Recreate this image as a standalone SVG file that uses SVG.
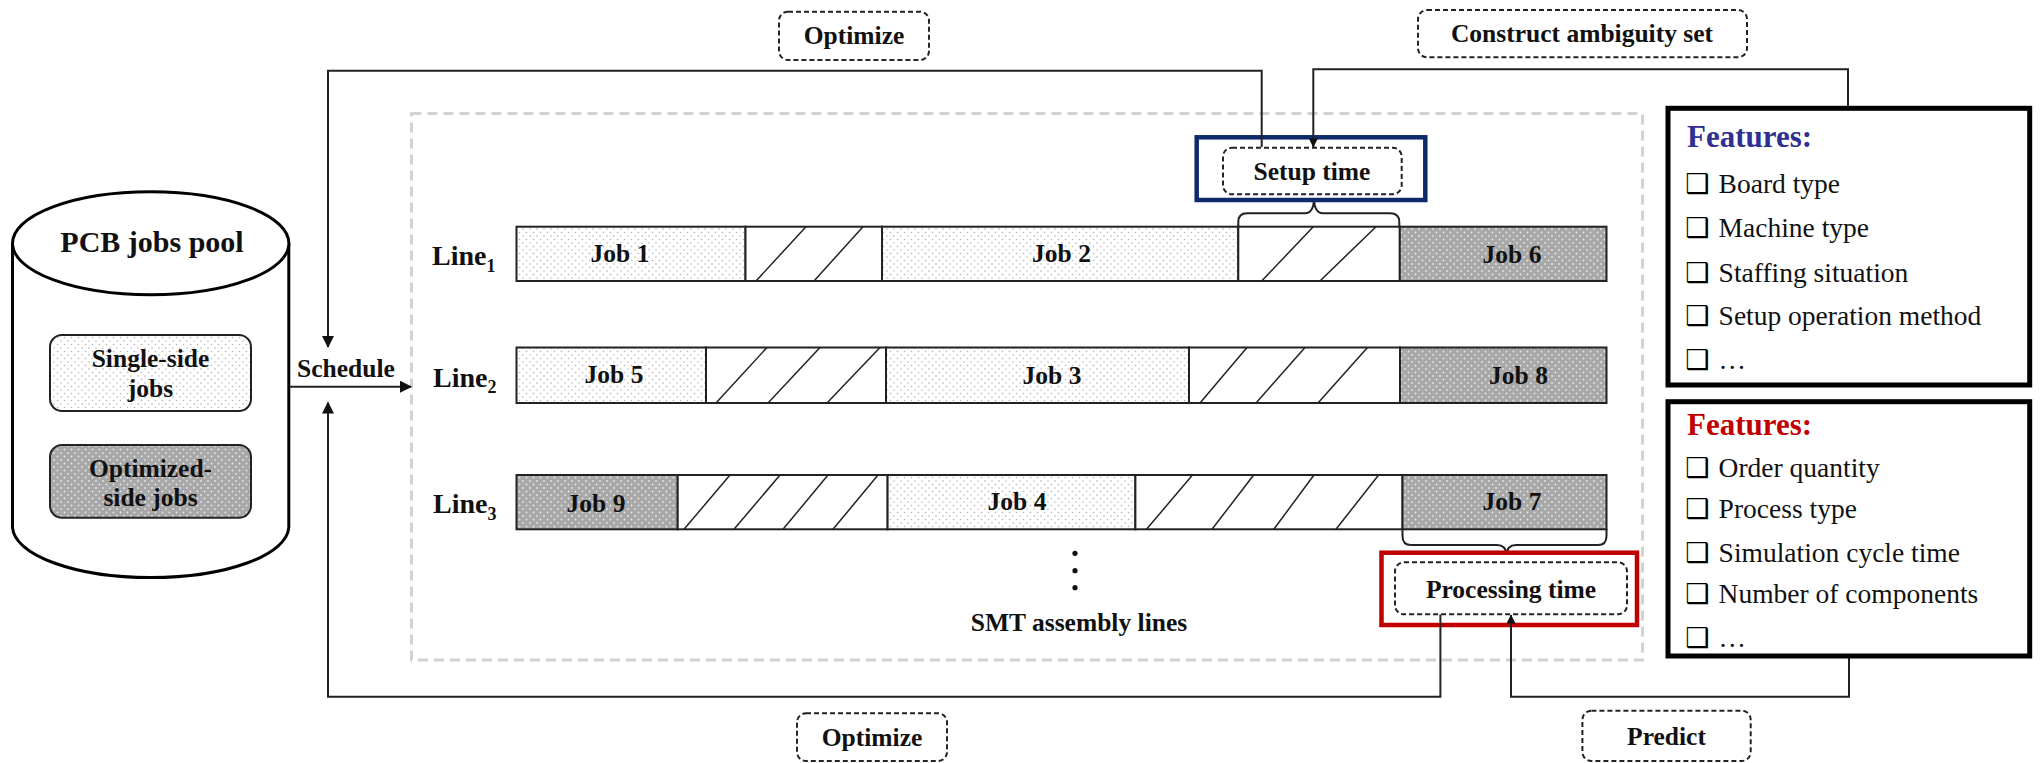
<svg xmlns="http://www.w3.org/2000/svg" width="2040" height="763" viewBox="0 0 2040 763">
  <defs>
    <pattern id="dotLight" width="7" height="7" patternUnits="userSpaceOnUse">
      <rect width="7" height="7" fill="#ffffff"/>
      <circle cx="1.5" cy="1.5" r="0.8" fill="#b5b5b5"/>
      <circle cx="5" cy="5" r="0.8" fill="#b5b5b5"/>
    </pattern>
    <pattern id="dotDark" width="7" height="7" patternUnits="userSpaceOnUse">
      <rect width="7" height="7" fill="#a8a8a8"/>
      <circle cx="1.5" cy="1.5" r="0.9" fill="#e6e6e6"/>
      <circle cx="5" cy="5" r="0.9" fill="#e6e6e6"/>
    </pattern>
    <marker id="arrow" viewBox="0 0 12 12" refX="11" refY="6" markerWidth="12" markerHeight="12" markerUnits="userSpaceOnUse" orient="auto">
      <path d="M0,0 L12,6 L0,12 Z" fill="#111"/>
    </marker>
    <marker id="arrowSm" viewBox="0 0 10 10" refX="9.5" refY="5" markerWidth="10" markerHeight="9" markerUnits="userSpaceOnUse" orient="auto">
      <path d="M0,0 L10,5 L0,10 Z" fill="#111"/>
    </marker>
  </defs>
  <style>
    .lbl { font-family: "Liberation Serif", "Times New Roman", serif; font-weight: bold; font-size: 25.5px; fill: #111; }
    .mid { text-anchor: middle; }
    .job { stroke: #222; stroke-width: 2; }
    .light { fill: url(#dotLight); }
    .dark { fill: url(#dotDark); }
    .hatch { fill: #fff; }
    .hl { stroke: #222; stroke-width: 1.5; }
    .conn { fill: none; stroke: #222; stroke-width: 2; }
    .tag { fill: #fff; stroke: #222; stroke-width: 2; stroke-dasharray: 5 3; }
    .feat { fill: #fff; stroke: #000; stroke-width: 5; }
    .item { font-family: "Liberation Serif", "Times New Roman", serif; font-size: 27.5px; fill: #111; }
    .box { font-family: "DejaVu Sans", sans-serif; font-size: 27px; fill: #000; }
    .line { font-family: "Liberation Serif", "Times New Roman", serif; font-weight: bold; font-size: 28px; fill: #111; }
    .head { font-family: "Liberation Serif", "Times New Roman", serif; font-weight: bold; font-size: 31px; }
  </style>

  <rect width="2040" height="763" fill="#ffffff"/>

  <!-- container of the assembly lines -->
  <rect id="smt-area" x="411.5" y="113.5" width="1231" height="546.5" fill="none" stroke="#d2d2d2" stroke-width="3" stroke-dasharray="10 6"/>

  <!-- job pool cylinder -->
  <g id="pool">
    <path d="M12.5,243.3 V527.5 A138.2,51.5 0 0 0 288.8,527.5 V243.3" fill="#fff" stroke="#000" stroke-width="3"/>
    <ellipse cx="150.7" cy="243.3" rx="138.2" ry="51.5" fill="#fff" stroke="#000" stroke-width="3"/>
    <text class="lbl mid" x="152" y="252" style="font-size:30px">PCB jobs pool</text>
  </g>
  <g id="single-side">
    <rect x="50" y="335" width="201" height="76" rx="12" class="light" stroke="#222" stroke-width="2"/>
    <text class="lbl mid" x="150.5" y="366.5">Single-side</text>
    <text class="lbl mid" x="150.5" y="396.5">jobs</text>
  </g>
  <g id="optimized-side">
    <rect x="50" y="445" width="201" height="72.7" rx="12" class="dark" stroke="#222" stroke-width="2"/>
    <text class="lbl mid" x="150.5" y="476.5">Optimized-</text>
    <text class="lbl mid" x="150.5" y="506">side jobs</text>
  </g>

  <!-- line 1 -->
  <g id="line1">
    <text class="line" x="432" y="265">Line<tspan dy="6.5" style="font-size:18px">1</tspan></text>
    <rect class="job light" x="516.5" y="226.7" width="229" height="54.3"/>
    <rect class="job hatch" x="745.5" y="226.7" width="136.5" height="54.3"/>
    <line class="hl" x1="756" y1="281" x2="806" y2="226.7"/>
    <line class="hl" x1="814" y1="281" x2="863" y2="226.7"/>
    <rect class="job light" x="882" y="226.7" width="356.3" height="54.3"/>
    <rect class="job hatch" x="1238.3" y="226.7" width="161.5" height="54.3"/>
    <line class="hl" x1="1261.7" y1="281" x2="1313.3" y2="226.7"/>
    <line class="hl" x1="1320" y1="281" x2="1376" y2="226.7"/>
    <rect class="job dark" x="1399.8" y="226.7" width="206.7" height="54.3"/>
    <text class="lbl mid" x="620" y="262">Job 1</text>
    <text class="lbl mid" x="1061.5" y="262">Job 2</text>
    <text class="lbl mid" x="1512" y="263">Job 6</text>
  </g>

  <!-- line 2 -->
  <g id="line2">
    <text class="line" x="433" y="386.7">Line<tspan dy="6.5" style="font-size:18px">2</tspan></text>
    <rect class="job light" x="516.5" y="347.5" width="189.5" height="55.5"/>
    <rect class="job hatch" x="706" y="347.5" width="180" height="55.5"/>
    <line class="hl" x1="716" y1="403" x2="767" y2="347.5"/>
    <line class="hl" x1="768" y1="403" x2="820" y2="347.5"/>
    <line class="hl" x1="827" y1="403" x2="880" y2="347.5"/>
    <rect class="job light" x="886" y="347.5" width="303" height="55.5"/>
    <rect class="job hatch" x="1189" y="347.5" width="211" height="55.5"/>
    <line class="hl" x1="1200" y1="403" x2="1247" y2="347.5"/>
    <line class="hl" x1="1256" y1="403" x2="1305" y2="347.5"/>
    <line class="hl" x1="1318" y1="403" x2="1367.5" y2="347.5"/>
    <rect class="job dark" x="1400" y="347.5" width="206.5" height="55.5"/>
    <text class="lbl mid" x="614" y="383">Job 5</text>
    <text class="lbl mid" x="1052" y="383.5">Job 3</text>
    <text class="lbl mid" x="1518.5" y="384">Job 8</text>
  </g>

  <!-- line 3 -->
  <g id="line3">
    <text class="line" x="433" y="513.3">Line<tspan dy="6.5" style="font-size:18px">3</tspan></text>
    <rect class="job dark" x="516.5" y="475" width="161.2" height="54.3"/>
    <rect class="job hatch" x="677.7" y="475" width="209.9" height="54.3"/>
    <line class="hl" x1="684" y1="529.3" x2="730" y2="475"/>
    <line class="hl" x1="734" y1="529.3" x2="780" y2="475"/>
    <line class="hl" x1="783" y1="529.3" x2="828" y2="475"/>
    <line class="hl" x1="833" y1="529.3" x2="878" y2="475"/>
    <rect class="job light" x="887.6" y="475" width="247.8" height="54.3"/>
    <rect class="job hatch" x="1135.4" y="475" width="267.1" height="54.3"/>
    <line class="hl" x1="1146.5" y1="529.3" x2="1192.5" y2="475"/>
    <line class="hl" x1="1212" y1="529.3" x2="1253.7" y2="475"/>
    <line class="hl" x1="1273.8" y1="529.3" x2="1314" y2="475"/>
    <line class="hl" x1="1336" y1="529.3" x2="1378.6" y2="475"/>
    <rect class="job dark" x="1402.5" y="475" width="204" height="54.3"/>
    <text class="lbl mid" x="596" y="511.5">Job 9</text>
    <text class="lbl mid" x="1017" y="509.5">Job 4</text>
    <text class="lbl mid" x="1512" y="509.5">Job 7</text>
  </g>

  <!-- more lines / caption -->
  <g id="more-lines">
    <circle cx="1075" cy="553.3" r="2.6" fill="#111"/>
    <circle cx="1075" cy="570.7" r="2.6" fill="#111"/>
    <circle cx="1075" cy="587.7" r="2.6" fill="#111"/>
    <text class="lbl mid" x="1079" y="630.5">SMT assembly lines</text>
  </g>

  <!-- braces -->
  <g id="braces" fill="none" stroke="#222" stroke-width="2">
    <path d="M1238.3,226.7 V222 Q1238.3,213.3 1247,213.3 H1305 Q1313.5,213.3 1314,199 Q1314.5,213.3 1323,213.3 H1390 Q1399.3,213.3 1399.3,222 V226.7"/>
    <path d="M1402.5,529.3 V536 Q1402.5,545 1411,545 H1497 Q1506,545 1506.5,555 Q1507,545 1516,545 H1598 Q1606.5,545 1606.5,536 V529.3"/>
  </g>

  <!-- setup time -->
  <g id="setup-time">
    <rect x="1196.7" y="137.3" width="228.6" height="62.7" fill="#fff" stroke="#0d2a6b" stroke-width="4.5"/>
    <rect class="tag" x="1223" y="147.7" width="178.7" height="46.6" rx="9"/>
    <text class="lbl mid" x="1312" y="180">Setup time</text>
  </g>

  <!-- processing time -->
  <g id="processing-time">
    <rect x="1381.5" y="552.7" width="255.5" height="72.3" fill="#fff" stroke="#c00000" stroke-width="4.5"/>
    <rect class="tag" x="1395" y="562.3" width="232" height="52" rx="9"/>
    <text class="lbl mid" x="1511" y="598.3">Processing time</text>
  </g>

  <!-- connectors -->
  <g id="connectors">
    <path class="conn" d="M1261.7,147 V70.7 H328 V347" marker-end="url(#arrow)"/>
    <path class="conn" d="M1848,108 V69.3 H1313.3 V147" marker-end="url(#arrowSm)"/>
    <path class="conn" d="M289,386.7 H411" marker-end="url(#arrow)"/>
    <path class="conn" d="M1440.4,614.5 V696.7 H328 V402.5" marker-end="url(#arrow)"/>
    <path class="conn" d="M1849,656 V696.7 H1511 V615" marker-end="url(#arrowSm)"/>
  </g>

  <!-- action tags -->
  <g id="tag-optimize-top">
    <rect class="tag" x="779" y="11.7" width="150" height="48.3" rx="9"/>
    <text class="lbl mid" x="854" y="44">Optimize</text>
  </g>
  <g id="tag-ambiguity">
    <rect class="tag" x="1418" y="10" width="329" height="47.3" rx="9"/>
    <text class="lbl mid" x="1582" y="41.7">Construct ambiguity set</text>
  </g>
  <g id="tag-optimize-bottom">
    <rect class="tag" x="797" y="713.3" width="150" height="47.7" rx="9"/>
    <text class="lbl mid" x="872" y="745.7">Optimize</text>
  </g>
  <g id="tag-predict">
    <rect class="tag" x="1582.4" y="710.7" width="168.3" height="50.3" rx="9"/>
    <text class="lbl mid" x="1666.5" y="745">Predict</text>
  </g>
  <g id="tag-schedule">
    <text class="lbl mid" x="346" y="376.7">Schedule</text>
  </g>

  <!-- feature lists -->
  <g id="setup-features">
    <rect class="feat" x="1668" y="108.3" width="361.7" height="276.7"/>
    <text class="head" x="1687" y="146.7" fill="#2e3192">Features:</text>
    <text class="box" x="1685" y="192.7">❑</text>
    <text class="item" x="1718.6" y="192.7">Board type</text>
    <text class="box" x="1685" y="236.7">❑</text>
    <text class="item" x="1718.6" y="236.7">Machine type</text>
    <text class="box" x="1685" y="281.7">❑</text>
    <text class="item" x="1718.6" y="281.7">Staffing situation</text>
    <text class="box" x="1685" y="325">❑</text>
    <text class="item" x="1718.6" y="325">Setup operation method</text>
    <text class="box" x="1685" y="369.3">❑</text>
    <text class="item" x="1718.6" y="369.3">…</text>
  </g>
  <g id="processing-features">
    <rect class="feat" x="1668" y="401.7" width="361.7" height="254.3"/>
    <text class="head" x="1687" y="435" fill="#c00000">Features:</text>
    <text class="box" x="1685" y="476.7">❑</text>
    <text class="item" x="1718.6" y="476.7">Order quantity</text>
    <text class="box" x="1685" y="518.3">❑</text>
    <text class="item" x="1718.6" y="518.3">Process type</text>
    <text class="box" x="1685" y="561.7">❑</text>
    <text class="item" x="1718.6" y="561.7">Simulation cycle time</text>
    <text class="box" x="1685" y="603.3">❑</text>
    <text class="item" x="1718.6" y="603.3">Number of components</text>
    <text class="box" x="1685" y="646.7">❑</text>
    <text class="item" x="1718.6" y="646.7">…</text>
  </g>
</svg>
